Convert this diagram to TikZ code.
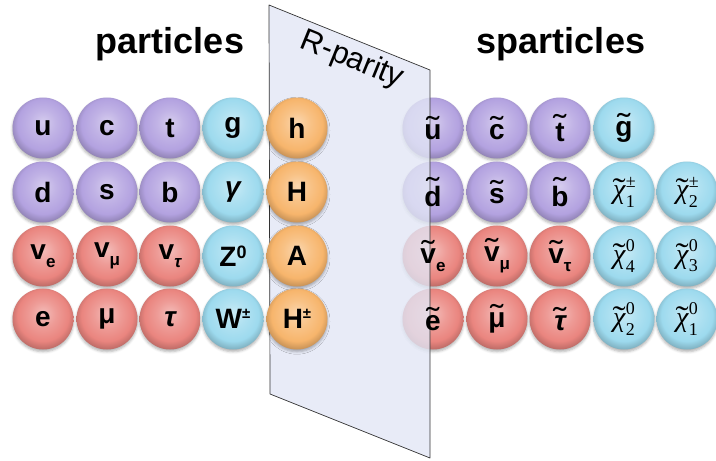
\documentclass[tikz,border=0pt]{standalone}
\usepackage{graphicx}
\usepackage{fontspec}
\setmainfont{Liberation Sans}
\newfontfamily\seriffam{Liberation Serif}
\usetikzlibrary{shadows.blur}

\definecolor{quarkcol}{HTML}{B3A2E0}
\definecolor{leptoncol}{HTML}{EA857F}
\definecolor{bosoncol}{HTML}{9DDAEE}
\definecolor{higgscol}{HTML}{F7B56C}
\definecolor{planecol}{HTML}{E2E6F5}
\colorlet{ballbase}{quarkcol}

% glossy sphere: light spot a little above the centre, darker rim
\pgfdeclareradialshading[ballbase]{glossy}{\pgfpoint{0bp}{5bp}}{%
  color(0bp)=(ballbase!55!white);
  color(11bp)=(ballbase!82!white);
  color(21bp)=(ballbase);
  color(28bp)=(ballbase!78!black);
  color(50bp)=(ballbase!78!black)}

\pgfdeclarelayer{discs}
\pgfsetlayers{discs,main}

% labels: tilde set above the letter, sub- and superscripts
\newcommand\tld[1]{\setbox0\hbox{#1}%
  \rlap{\makebox[\wd0]{\raisebox{\dimexpr\ht0-0.5em\relax}{\scalebox{1.4}[1.1]{\mdseries\upshape ˜}}}}\box0}
\newcommand\lo[1]{\raisebox{-0.3em}{\fontsize{17}{17}\selectfont #1}}
\newcommand\hi[1]{\raisebox{0.28em}{\fontsize{18}{18}\selectfont #1}}
\newcommand\hipm{\raisebox{0.38em}{\fontsize{15}{15}\selectfont ±}}
\newcommand\ino[2]{{\mdseries\seriffam\fontsize{28}{29}\selectfont
  \tld{\itshape χ}\kern0.5pt\rlap{\raisebox{0.42em}{\fontsize{18}{18}\selectfont #1}}%
  \raisebox{-0.3em}{\fontsize{18}{18}\selectfont #2}}}

\tikzset{
  lbl/.style={circle, minimum size=61pt, inner sep=0pt, text=black,
    font=\fontsize{28}{30}\selectfont\bfseries},
  ballfill/.style={shade, shading=glossy, /utils/exec={\colorlet{ballbase}{#1}},
    blur shadow={shadow xshift=0pt, shadow yshift=-2.2pt,
      shadow blur radius=2.5pt, shadow opacity=30}},
  ball/.style={lbl, ballfill=#1},
  quark/.style={ball=quarkcol},
  lepton/.style={ball=leptoncol},
  boson/.style={ball=bosoncol},
  higgs/.style={ball=higgscol},
  title/.style={anchor=base, font=\fontsize{36}{40}\selectfont\bfseries},
  sheetstyle/.style={fill=planecol, fill opacity=0.8, draw=black!80,
    line width=0.7pt, line join=round},
}

\begin{document}
\begin{tikzpicture}[x=1pt, y=-1pt]
\useasboundingbox (0,0) rectangle (716,461);

% titles
\node[title] (tpart) at (170,53) {particles};
\node[title] (tspart) at (561,53) {sparticles};

% the R-parity sheet
\filldraw[sheetstyle] (269,5) -- (430,70) -- (430,458) -- (270,394) -- cycle;
\node[rotate=-22, font=\fontsize{31}{33}\selectfont] (rp) at (352,60) {R-parity};

% particles
\node[quark]  (u)   at (43,128)  {u};
\node[quark]  (c)   at (107,128) {c};
\node[quark]  (t)   at (170,128) {t};
\node[boson]  (g)   at (233,128) {g};
\node[higgs]  (h)   at (297,128) {h};

\node[quark]  (d)   at (43,192)  {d};
\node[quark]  (s)   at (107,192) {s};
\node[quark]  (b)   at (170,192) {b};
\node[boson]  (gam) at (233,192) {\itshape γ};
\node[higgs]  (H)   at (297,192) {H};

\node[lepton] (nue) at (43,256)  {v\lo{e}};
\node[lepton] (num) at (107,256) {v\lo{μ}};
\node[lepton] (nut) at (170,256) {v\lo{\itshape τ}};
\node[boson]  (Z)   at (233,256) {Z\hi{0}};
\node[higgs]  (A)   at (297,256) {A};

\node[lepton] (e)   at (43,319)  {e};
\node[lepton] (mu)  at (107,319) {μ};
\node[lepton] (tau) at (170,319) {\itshape τ};
\node[boson]  (W)   at (233,319) {W\hipm};
\node[higgs]  (Hc)  at (297,319) {H\hipm};

% sparticles; the first column sits partly behind the sheet
\node[lbl]    (su)   at (433,128) {\tld{u}};
\node[quark]  (sc)   at (497,128) {\tld{c}};
\node[quark]  (st)   at (560,128) {\tld{t}};
\node[boson]  (sg)   at (624,128) {\tld{g}};

\node[lbl]    (sd)   at (433,192) {\tld{d}};
\node[quark]  (ss)   at (497,192) {\tld{s}};
\node[quark]  (sb)   at (560,192) {\tld{b}};
\node[boson]  (ch1)  at (624,192) {\ino{±}{1}};
\node[boson]  (ch2)  at (687,192) {\ino{±}{2}};

\node[lbl]    (snue) at (433,256) {\tld{v}\lo{e}};
\node[lepton] (snum) at (497,256) {\tld{v}\lo{μ}};
\node[lepton] (snut) at (560,256) {\tld{v}\lo{τ}};
\node[boson]  (n4)   at (624,256) {\ino{0}{4}};
\node[boson]  (n3)   at (687,256) {\ino{0}{3}};

\node[lbl]    (se)   at (433,319) {\tld{e}};
\node[lepton] (smu)  at (497,319) {\tld{μ}};
\node[lepton] (stau) at (560,319) {\tld{\itshape τ}};
\node[boson]  (n2)   at (624,319) {\ino{0}{2}};
\node[boson]  (n1)   at (687,319) {\ino{0}{1}};

% discs of the first sparticle column, below the sheet
\begin{pgfonlayer}{discs}
  \path[ballfill=quarkcol]  (su.center)   circle[radius=30.5pt];
  \path[ballfill=quarkcol]  (sd.center)   circle[radius=30.5pt];
  \path[ballfill=leptoncol] (snue.center) circle[radius=30.5pt];
  \path[ballfill=leptoncol] (se.center)   circle[radius=30.5pt];
\end{pgfonlayer}
\end{tikzpicture}
\end{document}
